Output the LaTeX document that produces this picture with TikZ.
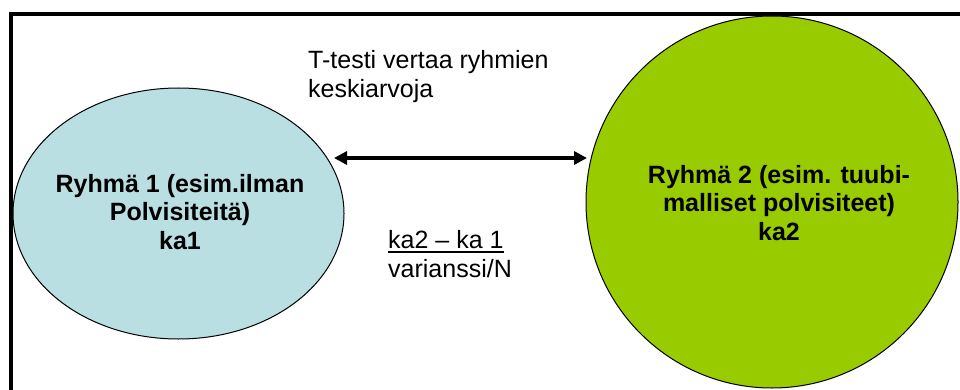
\documentclass[tikz,border=0pt]{standalone}
\usepackage{fontspec}
\setmainfont{Liberation Sans}
\usetikzlibrary{shapes.geometric,arrows.meta}

\definecolor{groupblue}{RGB}{185,223,227}
\definecolor{groupgreen}{RGB}{153,204,0}

% text underlined with a rule of chosen depth and thickness
\newcommand{\ulrule}[1]{{\setbox0\hbox{#1}\rlap{\rule[-4.5pt]{\wd0}{2pt}}\box0}}

\tikzset{
  groupshape/.style={draw=black, line width=1pt, inner sep=0pt},
  grouptext/.style={align=center, inner sep=0pt,
    font=\fontsize{25}{28.5}\selectfont\bfseries},
  plaintext/.style={align=left, inner sep=0pt,
    font=\fontsize{25}{29}\selectfont},
  bothway/.style={line width=4pt,
    {Triangle[length=13pt,width=13pt]}-{Triangle[length=13pt,width=13pt]}},
  frameline/.style={line width=4pt, draw=black}
}

\begin{document}
\begin{tikzpicture}[x=1pt,y=-1pt]
  \useasboundingbox (0,0) rectangle (960,390);
  \clip (0,0) rectangle (960,390);
  \fill[white] (0,0) rectangle (960,390);

  % the two groups
  \node[groupshape, ellipse, fill=groupblue,
        minimum width=331pt, minimum height=251pt] (g1) at (178.5,213.5) {};
  \node[groupshape, circle, fill=groupgreen,
        minimum size=372pt] (g2) at (772,202) {};

  \node[grouptext] (t1) at (180,212)
    {Ryhmä 1 (esim.ilman\\Polvisiteitä)\\ka1};
  \node[grouptext] (t2) at (779,203)
    {Ryhmä 2 (esim. tuubi-\\malliset polvisiteet)\\ka2};

  % comparison arrow between the groups
  \coordinate (a1) at (334,158);
  \coordinate (a2) at (587,158);
  \draw[bothway] (a1) -- (a2);

  \node[plaintext, anchor=north west] (cap) at (308,50)
    {T-testi vertaa ryhmien\\keskiarvoja};
  \node[plaintext, anchor=north west] (frac) at (388,230)
    {\ulrule{ka2 – ka 1}\\varianssi/N};

  % outer frame, running past the right and bottom edges
  \draw[frameline] (10.5,14.5) rectangle (1000,450);
\end{tikzpicture}
\end{document}
